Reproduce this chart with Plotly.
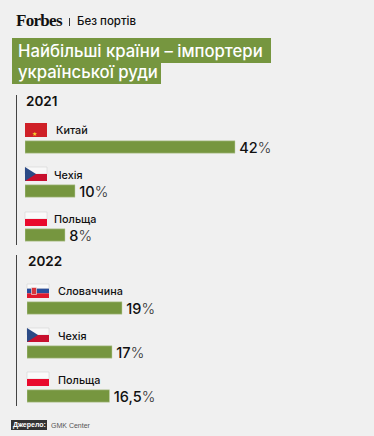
import plotly.graph_objects as go

countries_2021 = ["Китай", "Чехія", "Польща"]
values_2021 = [42, 10, 8]
labels_2021 = ["42", "10", "8"]
countries_2022 = ["Словаччина", "Чехія", "Польща"]
values_2022 = [19, 17, 16.5]
labels_2022 = ["19", "17", "16,5"]

W, H = 374, 436
GREEN = "#76963f"
EDGE = "#c3d0aa"
BG = "#f0f0f0"
INK = "#111111"
SANS = "Inter, 'Liberation Sans', Arial, sans-serif"

def px(v): return v / W
def py(v): return 1 - v / H

def pct(lbls):
    return [f"\u200a<span style='font-weight:500'>{l}</span><span style='font-weight:300;color:#333'>%</span>" for l in lbls]

fig = go.Figure()
for vals, lbls, xa, ya in [
    (values_2021, labels_2021, "x", "y"),
    (values_2022, labels_2022, "x2", "y2"),
]:
    fig.add_trace(go.Bar(
        x=vals, y=list(range(3)), orientation="h", xaxis=xa, yaxis=ya,
        marker=dict(color=GREEN, line=dict(color=EDGE, width=0.5)),
        text=pct(lbls), textposition="outside", cliponaxis=False, constraintext="none",
        textfont=dict(family=SANS, size=14.5, color=INK), hoverinfo="skip",
        width=0.28,
    ))

shapes, ann = [], []

def rect(x0, y0, x1, y1, color, line=None):
    shapes.append(dict(type="rect", xref="paper", yref="paper", layer="above",
                       x0=px(x0), x1=px(x1), y0=py(y0), y1=py(y1),
                       fillcolor=color, line=dict(width=0.6 if line else 0, color=line or color)))

def text(x, y, s, size, color=INK, family=SANS, anchor="left"):
    ann.append(dict(xref="paper", yref="paper", x=px(x), y=py(y), text=s, showarrow=False,
                    xanchor=anchor, yanchor="middle", align="left",
                    font=dict(family=family, size=size, color=color)))

# header
text(14, 21, "<span style='letter-spacing:-0.7px'><b>Forbes</b></span>", 17, "#111", "'Liberation Serif', serif")
rect(69, 18, 70, 26, "#333")
text(75, 21.5, "<span style='font-weight:500'>Без портів</span>", 11.5)
rect(12, 38, 271, 63, GREEN)
rect(12, 62, 161, 84, GREEN)
text(16, 51, "<span style='font-weight:500'>Найбільші країни – імпортери</span>", 16.7, "#fff")
text(16, 72, "<span style='font-weight:500'>української руди</span>", 16.7, "#fff")

# year groups
rect(16, 95, 17, 245, "#444")
rect(16, 255, 17, 406, "#444")
text(24, 101, "<span style='font-weight:600'>2021</span>", 13.5)
text(26, 261, "<span style='font-weight:600'>2022</span>", 13.5)

def flag(kind, x, y):
    w, h = 22, 14
    if kind == "Китай":
        rect(x, y, x + w, y + h, "#cf2027")
        ann.append(dict(xref="paper", yref="paper", x=px(x + 5), y=py(y + 4.5), text="★", showarrow=False,
                        font=dict(size=6, color="#f6d32d", family="DejaVu Sans")))
    elif kind == "Чехія":
        rect(x, y, x + w, y + h / 2, "#f8f8f8", "#d4d4d4")
        rect(x, y + h / 2, x + w, y + h, "#c8102e")
        shapes.append(dict(type="path", xref="paper", yref="paper", layer="above",
                           path=f"M{px(x)},{py(y)} L{px(x + 11)},{py(y + h / 2)} L{px(x)},{py(y + h)} Z",
                           fillcolor="#2b4a86", line=dict(width=0)))
    elif kind == "Польща":
        rect(x, y, x + w, y + h / 2, "#fafafa", "#d4d4d4")
        rect(x, y + h / 2, x + w, y + h, "#e9092c")
    else:
        rect(x, y, x + w, y + h / 3, "#fafafa", "#d4d4d4")
        rect(x, y + h / 3, x + w, y + 2 * h / 3, "#2a4f9c")
        rect(x, y + 2 * h / 3, x + w, y + h, "#e0182d")
        rect(x + 4.5, y + 3.5, x + 9.5, y + 10.5, "#d8353c", "#f4f4f4")

rows = [(countries_2021, 25, [123, 167, 212], [130.5, 175, 219], [54, 52, 52]),
        (countries_2022, 27, [284, 328, 372], [291, 336, 380], [56, 56, 56])]
for cats, fx, fys, tys, txs in rows:
    for c, fy, ty, tx in zip(cats, fys, tys, txs):
        flag(c, fx, fy)
        text(tx, ty, "<span style='font-weight:500'>" + c + "</span>", 10.8)

# source
rect(11, 420, 47, 430, "#333")
text(11, 425, "<b>Джерело:</b>", 7, "#fff", "'Liberation Sans', Arial, sans-serif")
text(49, 425, "GMK Center", 7, "#555", "'Liberation Sans', Arial, sans-serif")

# axes: 5 px per percentage point
def xdom(x0): return [px(x0), px(x0 + 300)]
def ydom(c0): return [py(c0 + 110), py(c0 - 22)]

common = dict(showgrid=False, zeroline=False, showticklabels=False, showline=False, ticks="")
fig.update_layout(
    width=W, height=H, autosize=False, margin=dict(l=0, r=0, t=0, b=0),
    paper_bgcolor=BG, plot_bgcolor=BG, showlegend=False, shapes=shapes, annotations=ann,
    xaxis=dict(domain=xdom(25), range=[0, 60], anchor="y", **common),
    xaxis2=dict(domain=xdom(27), range=[0, 60], anchor="y2", **common),
    yaxis=dict(domain=ydom(147), range=[2.5, -0.5], anchor="x", **common),
    yaxis2=dict(domain=ydom(308), range=[2.5, -0.5], anchor="x2", **common),
)
fig.write_html("out.html", config=dict(displayModeBar=False),
               post_script="document.body.style.margin='0';document.documentElement.style.background='#f0f0f0';")
